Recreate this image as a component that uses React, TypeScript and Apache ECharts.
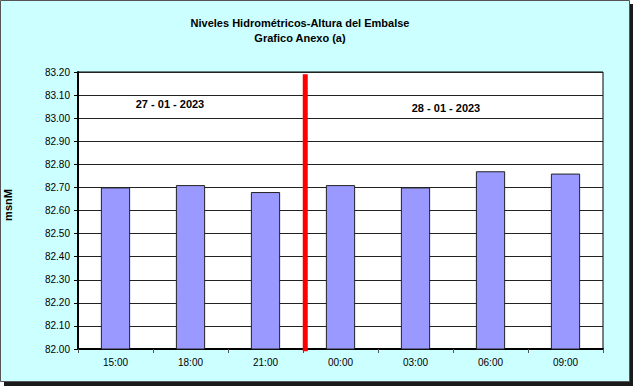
import React, { useEffect, useRef } from "react";
import * as echarts from "echarts";

const categories = ["15:00", "18:00", "21:00", "00:00", "03:00", "06:00", "09:00"];
const levels = [82.7, 82.71, 82.68, 82.71, 82.7, 82.77, 82.76];
const yMin = 82.0;
const yMax = 83.2;
const yStep = 0.1;
const dividerPosition = 3.03;
const dividerSpan = [81.99, 83.19];
const titleLines = ["Niveles Hidrométricos-Altura del Embalse", "Grafico Anexo (a)"];
const dayLabels = ["27 - 01 - 2023", "28 - 01 - 2023"];
const yAxisName = "msnM";

export default function App() {
  const ref = useRef<HTMLDivElement>(null);
  useEffect(() => {
    document.body.style.margin = "0";
    const chart = echarts.init(ref.current!, null, { renderer: "svg" });
    const font = "Arial, 'Liberation Sans', sans-serif";
    chart.setOption({
      animation: false,
      backgroundColor: "transparent",
      graphic: [
        { type: "rect", z: -10, shape: { x: 4, y: 4, width: 629, height: 382 }, style: { fill: "#1a1a1a" } },
        { type: "rect", z: -9, shape: { x: 0.5, y: 0.5, width: 629, height: 381 }, style: { fill: "#CCFFFF", stroke: "#555", lineWidth: 1 } },
        { type: "text", x: 300, y: 23, style: { text: titleLines[0], align: "center", verticalAlign: "middle", font: `bold 11px ${font}`, fill: "#000" } },
        { type: "text", x: 300, y: 38, style: { text: titleLines[1], align: "center", verticalAlign: "middle", font: `bold 11px ${font}`, fill: "#000" } },
        { type: "text", x: 170, y: 104, z: 100, style: { text: dayLabels[0], align: "center", verticalAlign: "middle", font: `bold 11px ${font}`, fill: "#000" } },
        { type: "text", x: 446, y: 108, z: 100, style: { text: dayLabels[1], align: "center", verticalAlign: "middle", font: `bold 11px ${font}`, fill: "#000" } },
        { type: "text", x: 8, y: 205, rotation: Math.PI / 2, style: { text: yAxisName, align: "center", verticalAlign: "middle", font: `bold 11px ${font}`, fill: "#000" } },
      ],
      grid: {
        left: 78, right: 30, top: 72, bottom: 37,
        show: true, backgroundColor: "#ffffff", borderColor: "#000", borderWidth: 1,
      },
      xAxis: [
        {
          type: "category",
          data: categories,
          axisLine: { lineStyle: { color: "#000", width: 2 } },
          axisTick: { show: true, length: 4, lineStyle: { color: "#555" } },
          axisLabel: { color: "#000", fontSize: 10, fontFamily: font, margin: 8 },
        },
        { type: "value", min: 0, max: 7, show: false },
      ],
      yAxis: {
        type: "value",
        min: yMin,
        max: yMax,
        interval: yStep,
        axisLine: { show: true, lineStyle: { color: "#000", width: 2 } },
        axisTick: { show: true, length: 4, lineStyle: { color: "#000" } },
        axisLabel: { color: "#000", fontSize: 10, fontFamily: font, margin: 8, formatter: (v: number) => v.toFixed(2) },
        splitLine: { show: true, lineStyle: { color: "#222", width: 1 } },
      },
      series: [
        {
          type: "bar",
          data: levels,
          barWidth: "39%",
          itemStyle: { color: "#9999FF", borderColor: "#222", borderWidth: 1 },
        },
        {
          type: "line",
          xAxisIndex: 1,
          data: [[dividerPosition, dividerSpan[0]], [dividerPosition, dividerSpan[1]]],
          symbol: "none",
          clip: false,
          z: 20,
          lineStyle: { color: "#FF0000", width: 5 },
        },
      ],
    });
    return () => chart.dispose();
  }, []);
  return <div ref={ref} style={{ width: 633, height: 386 }} />;
}
